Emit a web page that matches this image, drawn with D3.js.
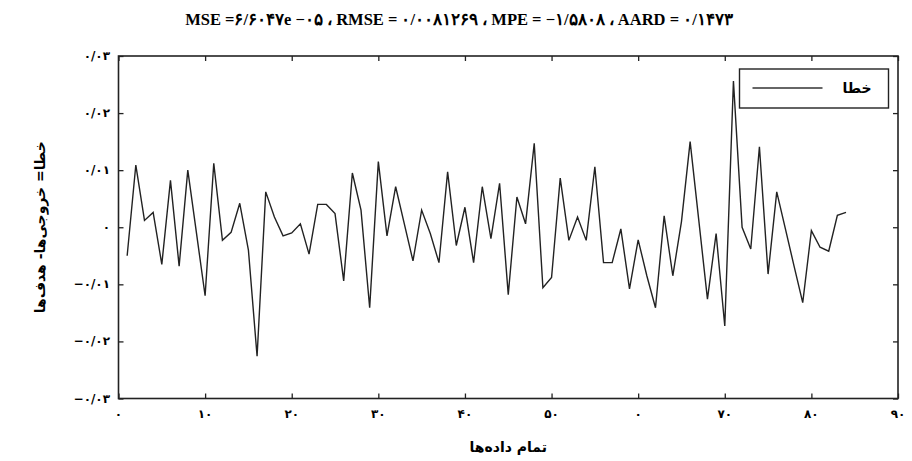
<!DOCTYPE html>
<html>
<head>
<meta charset="utf-8">
<script src="https://cdn.jsdelivr.net/npm/d3@7/dist/d3.min.js"></script>
<style>
  html, body { margin: 0; padding: 0; background: #fff; }
  svg { display: block; }
</style>
</head>
<body>
<svg id="chart" width="912" height="461"></svg>
<script>
// Error per sample (output - target)
const sampleIndex = d3.range(1, 85);
const errorValues = [
  -0.005, 0.0109, 0.0012, 0.0026, -0.0065, 0.0082, -0.0068, 0.0100, -0.001, -0.012,
  0.0112, -0.0023, -0.0009, 0.0042, -0.004, -0.0226, 0.0062, 0.0018, -0.0015, -0.001,
  0.0006, -0.0047, 0.004, 0.004, 0.0024, -0.0094, 0.0095, 0.003, -0.0141, 0.0115,
  -0.0015, 0.0071, 0.0006, -0.0059, 0.003, -0.0011, -0.0062, 0.0097, -0.0032, 0.0035,
  -0.0062, 0.0071, -0.002, 0.0077, -0.0118, 0.0053, 0.0006, 0.0147, -0.0106, -0.0088,
  0.0086, -0.0023, 0.0018, -0.0023, 0.0106, -0.0062, -0.0062, -0.0003, -0.0108, -0.0022,
  -0.0085, -0.0141, 0.002, -0.0085, 0.001, 0.015, 0.0012, -0.0126, -0.0011, -0.0173,
  0.0256, 0.0, -0.0038, 0.0141, -0.0082, 0.0062, -0.0003, -0.0068, -0.0132, -0.0006,
  -0.0035, -0.0042, 0.0021, 0.0026
];

const xTickValues = [0, 10, 20, 30, 40, 50, 60, 70, 80, 90];
const xTickLabels = ["۰", "۱۰", "۲۰", "۳۰", "۴۰", "۵۰", "۰", "۷۰", "۸۰", "۹۰"];
const yTickValues = [0.03, 0.02, 0.01, 0, -0.01, -0.02, -0.03];
const yTickLabels = ["۰/۰۳", "۰/۰۲", "۰/۰۱", "۰", "−۰/۰۱", "−۰/۰۲", "−۰/۰۳"];

const titleText = "MSE =۶/۶۰۴۷e −۰۵ ، RMSE = ۰/۰۰۸۱۲۶۹ ، MPE = −۱/۵۸۰۸ ، AARD = ۰/۱۴۷۳";
const xAxisTitle = "تمام داده‌ها";
const yAxisTitle = "خطا= خروجی‌ها- هدف‌ها";
const legendLabel = "خطا";

const svg = d3.select("#chart");
const plot = { left: 118.5, right: 898, top: 56, bottom: 398.5 };

const x = d3.scaleLinear().domain([0, 90]).range([plot.left, plot.right]);
const y = d3.scaleLinear().domain([-0.03, 0.03]).range([plot.bottom, plot.top]);

const persianFont = "'DejaVu Sans', sans-serif";
const tickLen = 5;

// Inward ticks on all four sides
const axes = [
  { gen: d3.axisBottom(x).tickValues(xTickValues).tickSize(tickLen).tickFormat(""), t: `translate(0,${plot.bottom}) scale(1,-1)` },
  { gen: d3.axisTop(x).tickValues(xTickValues).tickSize(tickLen).tickFormat(""), t: `translate(0,${plot.top}) scale(1,-1)` },
  { gen: d3.axisLeft(y).tickValues(yTickValues).tickSize(tickLen).tickFormat(""), t: `translate(${plot.left},0) scale(-1,1)` },
  { gen: d3.axisRight(y).tickValues(yTickValues).tickSize(tickLen).tickFormat(""), t: `translate(${plot.right},0) scale(-1,1)` }
];
axes.forEach(a => {
  const g = svg.append("g").attr("transform", a.t).call(a.gen);
  g.select(".domain").remove();
  g.selectAll("line").attr("stroke", "#222").attr("stroke-width", 1.3);
});

// Tick labels
svg.append("g").selectAll("text")
  .data(xTickValues)
  .join("text")
  .attr("x", d => x(d))
  .attr("y", 418)
  .attr("text-anchor", "middle")
  .attr("font-family", persianFont)
  .attr("font-weight", "bold")
  .attr("font-size", 12)
  .attr("fill", "#000")
  .text((d, i) => xTickLabels[i]);

svg.append("g").selectAll("text")
  .data(yTickValues)
  .join("text")
  .attr("x", 110)
  .attr("y", d => y(d) + 4)
  .attr("text-anchor", "end")
  .attr("direction", "ltr")
  .attr("font-family", persianFont)
  .attr("font-weight", "bold")
  .attr("font-size", 12)
  .attr("fill", "#000")
  .text((d, i) => yTickLabels[i]);

// Error line
const line = d3.line()
  .x((d, i) => x(sampleIndex[i]))
  .y(d => y(d));

svg.append("path")
  .datum(errorValues)
  .attr("d", line)
  .attr("fill", "none")
  .attr("stroke", "#222")
  .attr("stroke-width", 1.4)
  .attr("stroke-linejoin", "miter");

// Plot frame
svg.append("rect")
  .attr("x", plot.left).attr("y", plot.top)
  .attr("width", plot.right - plot.left)
  .attr("height", plot.bottom - plot.top)
  .attr("fill", "none")
  .attr("stroke", "#222")
  .attr("stroke-width", 1.6);

// Legend
const legend = svg.append("g").attr("transform", "translate(739.5,69)");
legend.append("rect")
  .attr("width", 149).attr("height", 39)
  .attr("fill", "#fff")
  .attr("stroke", "#222")
  .attr("stroke-width", 1.4);
legend.append("line")
  .attr("x1", 13).attr("x2", 83)
  .attr("y1", 19).attr("y2", 19)
  .attr("stroke", "#333").attr("stroke-width", 1.3);
legend.append("text")
  .attr("x", 132).attr("y", 24)
  .attr("text-anchor", "end")
  .attr("font-family", persianFont)
  .attr("font-weight", "bold")
  .attr("font-size", 14)
  .attr("fill", "#000")
  .text(legendLabel);

// Title
svg.append("text")
  .attr("x", 459).attr("y", 25)
  .attr("text-anchor", "middle")
  .attr("direction", "ltr")
  .attr("font-family", "'Liberation Serif', 'DejaVu Serif', serif")
  .attr("font-weight", "bold")
  .attr("font-size", 16.5)
  .attr("fill", "#000")
  .text(titleText);

// Axis titles
svg.append("text")
  .attr("x", (plot.left + plot.right) / 2).attr("y", 452)
  .attr("text-anchor", "middle")
  .attr("direction", "rtl")
  .attr("font-family", persianFont)
  .attr("font-weight", "bold")
  .attr("font-size", 14)
  .attr("fill", "#000")
  .text(xAxisTitle);

svg.append("text")
  .attr("transform", `translate(45,${(plot.top + plot.bottom) / 2}) rotate(-90)`)
  .attr("text-anchor", "middle")
  .attr("direction", "rtl")
  .attr("font-family", persianFont)
  .attr("font-weight", "bold")
  .attr("font-size", 14)
  .attr("fill", "#000")
  .text(yAxisTitle);
</script>
</body>
</html>
